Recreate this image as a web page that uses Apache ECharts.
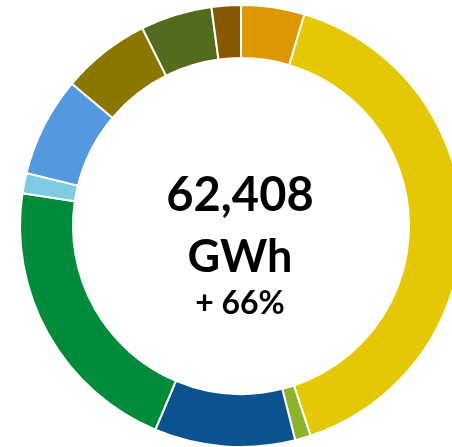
<!DOCTYPE html>
<html>
<head>
<meta charset="utf-8">
<style>
  html, body { margin: 0; padding: 0; background: #fff; }
  #chart { width: 452px; height: 447px; }
</style>
<script src="https://cdn.jsdelivr.net/npm/echarts@6/dist/echarts.min.js"></script>
</head>
<body>
<div id="chart"></div>
<script>
// slices, clockwise from the top (GWh)
var names = ['s1', 's2', 's3', 's4', 's5', 's6', 's7', 's8', 's9', 's10'];
var values = [2895, 25128, 719, 6414, 13123, 936, 4542, 4057, 3259, 1335];
var colors = ['#DD9702', '#E5C804', '#8DB32B', '#0B538F', '#008C3A',
              '#7ECBE4', '#5499E0', '#8A7700', '#536B1C', '#865A01'];

var totalText = '62,408';
var unitText = 'GWh';
var changeText = '+ 66%';

var chart = echarts.init(document.getElementById('chart'));

var data = names.map(function (n, i) {
  return { name: n, value: values[i], itemStyle: { color: colors[i] } };
});

var option = {
  animation: false,
  series: [{
    type: 'pie',
    center: [241, 226],
    radius: [168, 221],
    startAngle: 90,
    clockwise: true,
    label: { show: false },
    labelLine: { show: false },
    itemStyle: { borderColor: '#fff', borderWidth: 2 },
    data: data
  }],
  graphic: [
    {
      type: 'text', x: 240, y: 196,
      style: { text: totalText, fill: '#000', font: '700 47px Lato', textAlign: 'center', textVerticalAlign: 'middle' }
    },
    {
      type: 'text', x: 240, y: 257,
      style: { text: unitText, fill: '#000', font: '700 45px Lato', textAlign: 'center', textVerticalAlign: 'middle' }
    },
    {
      type: 'text', x: 240, y: 304,
      style: { text: changeText, fill: '#000', font: '700 32px Lato', textAlign: 'center', textVerticalAlign: 'middle' }
    }
  ]
};

chart.setOption(option);
</script>
</body>
</html>
